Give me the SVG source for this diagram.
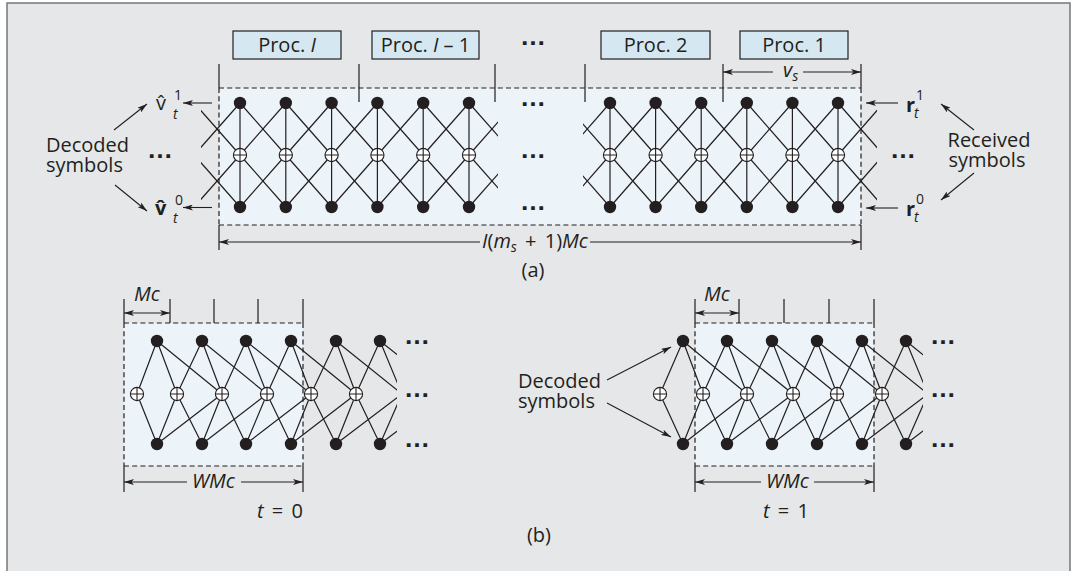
<svg xmlns="http://www.w3.org/2000/svg" width="1078" height="571" viewBox="0 0 1078 571">
<style>
text{font-family:"Open Sans","Liberation Sans",sans-serif;font-size:20px;fill:#231f20}
.it{font-style:italic}
.sm{font-size:14px}
.bd{font-weight:bold}
.ell{font-family:"Liberation Sans",sans-serif;font-size:26px;font-weight:bold;text-anchor:middle}
.ln{stroke:#231f20;stroke-width:1.2;fill:none}
.dim{stroke:#231f20;stroke-width:1.1;fill:none}
.dash{stroke:#231f20;stroke-width:1.2;stroke-dasharray:5 3.2}
.proc{fill:#d5e8f1;stroke:#231f20;stroke-width:1.2}
.mid{text-anchor:middle}
.ws{word-spacing:3px}
</style>
<defs>
<marker id="ah" viewBox="0 0 10 6" refX="10" refY="3" markerWidth="10" markerHeight="6" orient="auto-start-reverse" markerUnits="userSpaceOnUse"><path d="M0,0 L10,3 L0,6 L2.5,3 z" fill="#231f20"/></marker>
<circle id="dot" r="6.2" fill="#231f20"/>
<g id="xor"><circle r="6.6" fill="#fff" stroke="#231f20" stroke-width="1.1"/><path d="M-6.6,0H6.6M0,-6.6V6.6" stroke="#231f20" stroke-width="1.1"/></g>
<clipPath id="cL"><rect x="201" y="80" width="297" height="150"/></clipPath>
<clipPath id="cR"><rect x="583" y="80" width="294" height="150"/></clipPath>
<clipPath id="cb0"><rect x="100" y="320" width="297" height="150"/></clipPath>
<clipPath id="cb1"><rect x="640" y="320" width="283" height="150"/></clipPath>
</defs>
<rect x="7" y="3" width="1063" height="580" fill="#e6e7e8" stroke="#76777a" stroke-width="1.5"/>

<!-- (a) window box -->
<rect x="219" y="88" width="642" height="137" fill="#ecf3f9"/>
<path class="dash" d="M219,88H861M219,225H861M219,88V225M861,88V225"/>

<g id="proc-I"><rect class="proc" x="233" y="31" width="108" height="28"/><text x="287" y="52" class="mid">Proc. <tspan class="it">I</tspan></text></g>
<g id="proc-I-1"><rect class="proc" x="372" y="31" width="107" height="28"/><text x="425.5" y="52" class="mid">Proc. <tspan class="it">I</tspan> – 1</text></g>
<g id="proc-2"><rect class="proc" x="601" y="31" width="109" height="28"/><text x="655.5" y="52" class="mid">Proc. 2</text></g>
<g id="proc-1"><rect class="proc" x="740" y="31" width="108" height="28"/><text x="794" y="52" class="mid">Proc. 1</text></g>
<text class="ell" x="533" y="45">…</text>

<g id="connectors">
<path class="ln" d="M219,64V88M219,225V250M861,64V88M861,225V250M359,64V102M495,64V102M585,64V102M723,64V102"/>
<path class="dim" d="M723,72H773" marker-start="url(#ah)"/>
<path class="dim" d="M803,72H861" marker-end="url(#ah)"/>
<path class="dim" d="M219,242H480" marker-start="url(#ah)"/>
<path class="dim" d="M590,242H861" marker-end="url(#ah)"/>
<g clip-path="url(#cL)" class="ln">
<polyline points="194.2,103 240,155 285.8,103 331.6,155 377.4,103 423.2,155 469,103 514.8,155"/>
<polyline points="194.2,155 240,103 285.8,155 331.6,103 377.4,155 423.2,103 469,155 514.8,103"/>
<polyline points="194.2,207 240,155 285.8,207 331.6,155 377.4,207 423.2,155 469,207 514.8,155"/>
<polyline points="194.2,155 240,207 285.8,155 331.6,207 377.4,155 423.2,207 469,155 514.8,207"/>
</g>
<path class="ln" d="M240,103V207M285.8,103V207M331.6,103V207M377.4,103V207M423.2,103V207M469,103V207"/>
<g clip-path="url(#cR)" class="ln">
<polyline points="564.4,103 610,155 655.6,103 701.2,155 746.8,103 792.4,155 838,103 883.6,155"/>
<polyline points="564.4,155 610,103 655.6,155 701.2,103 746.8,155 792.4,103 838,155 883.6,103"/>
<polyline points="564.4,207 610,155 655.6,207 701.2,155 746.8,207 792.4,155 838,207 883.6,155"/>
<polyline points="564.4,155 610,207 655.6,155 701.2,207 746.8,155 792.4,207 838,155 883.6,207"/>
</g>
<path class="ln" d="M610,103V207M655.6,103V207M701.2,103V207M746.8,103V207M792.4,103V207M838,103V207"/>
<path class="dim" d="M212,103H183" marker-end="url(#ah)"/>
<path class="dim" d="M212,207.5H183" marker-end="url(#ah)"/>
<path class="dim" d="M114,130L147,104" marker-end="url(#ah)"/>
<path class="dim" d="M115,185L147,211" marker-end="url(#ah)"/>
<path class="dim" d="M898,103H866" marker-end="url(#ah)"/>
<path class="dim" d="M898,208H866" marker-end="url(#ah)"/>
<path class="dim" d="M974,130L941,104" marker-end="url(#ah)"/>
<path class="dim" d="M974,173L941,200" marker-end="url(#ah)"/>

<path class="ln" d="M124,299V323M170,299V323M214,299V323M258,299V323M303,299V323M124,466V492M303,466V492"/>
<path class="dim" d="M124,313H170" marker-start="url(#ah)" marker-end="url(#ah)"/>
<path class="dim" d="M124,482H187" marker-start="url(#ah)"/>
<path class="dim" d="M241,482H303" marker-end="url(#ah)"/>
<path class="ln" d="M695,299V323M739,299V323M784,299V323M829,299V323M874,299V323M695,466V492M874,466V492"/>
<path class="dim" d="M695,313H739" marker-start="url(#ah)" marker-end="url(#ah)"/>
<path class="dim" d="M695,482H761" marker-start="url(#ah)"/>
<path class="dim" d="M814,482H874" marker-end="url(#ah)"/>
<path class="dim" d="M607,380L671,347" marker-end="url(#ah)"/>
<path class="dim" d="M607,403L671,437" marker-end="url(#ah)"/>
</g>

<g id="box-t0"><rect x="124" y="323" width="179" height="143" fill="#ecf3f9"/><path class="dash" d="M124,323H303M124,466H303M124,323V466M303,323V466"/></g>
<g id="box-t1"><rect x="695" y="323" width="179" height="143" fill="#ecf3f9"/><path class="dash" d="M695,323H874M695,466H874M695,323V466M874,323V466"/></g>

<g id="connectors-b">
<g clip-path="url(#cb0)" class="ln">
<path d="M157,341L137,394M157,341L177,394M157,341L222,394M202,341L177,394M202,341L222,394M202,341L267,394M246,341L222,394M246,341L267,394M246,341L311,394M291,341L267,394M291,341L311,394M291,341L356,394M336,341L311,394M336,341L356,394M336,341L402,394M380,341L356,394M380,341L402,394M380,341L447,394"/>
<path d="M157,444L137,394M157,444L177,394M157,444L222,394M202,444L177,394M202,444L222,394M202,444L267,394M246,444L222,394M246,444L267,394M246,444L311,394M291,444L267,394M291,444L311,394M291,444L356,394M336,444L311,394M336,444L356,394M336,444L402,394M380,444L356,394M380,444L402,394M380,444L447,394"/>
</g>
<g clip-path="url(#cb1)" class="ln">
<path d="M683,341L660,394M683,341L703,394M683,341L747,394M727,341L703,394M727,341L747,394M727,341L793,394M772,341L747,394M772,341L793,394M772,341L837,394M817,341L793,394M817,341L837,394M817,341L882,394M862,341L837,394M862,341L882,394M862,341L928,394M906,341L882,394M906,341L928,394M906,341L972,394"/>
<path d="M683,444L660,394M683,444L703,394M683,444L747,394M727,444L703,394M727,444L747,394M727,444L793,394M772,444L747,394M772,444L793,394M772,444L837,394M817,444L793,394M817,444L837,394M817,444L882,394M862,444L837,394M862,444L882,394M862,444L928,394M906,444L882,394M906,444L928,394M906,444L972,394"/>
</g>
</g>

<g id="a-L-top"><use href="#dot" x="240" y="103"/><use href="#dot" x="285.8" y="103"/><use href="#dot" x="331.6" y="103"/><use href="#dot" x="377.4" y="103"/><use href="#dot" x="423.2" y="103"/><use href="#dot" x="469" y="103"/></g>
<g id="a-L-xor"><use href="#xor" x="240" y="155"/><use href="#xor" x="285.8" y="155"/><use href="#xor" x="331.6" y="155"/><use href="#xor" x="377.4" y="155"/><use href="#xor" x="423.2" y="155"/><use href="#xor" x="469" y="155"/></g>
<g id="a-L-bot"><use href="#dot" x="240" y="207"/><use href="#dot" x="285.8" y="207"/><use href="#dot" x="331.6" y="207"/><use href="#dot" x="377.4" y="207"/><use href="#dot" x="423.2" y="207"/><use href="#dot" x="469" y="207"/></g>
<g id="a-R-top"><use href="#dot" x="610" y="103"/><use href="#dot" x="655.6" y="103"/><use href="#dot" x="701.2" y="103"/><use href="#dot" x="746.8" y="103"/><use href="#dot" x="792.4" y="103"/><use href="#dot" x="838" y="103"/></g>
<g id="a-R-xor"><use href="#xor" x="610" y="155"/><use href="#xor" x="655.6" y="155"/><use href="#xor" x="701.2" y="155"/><use href="#xor" x="746.8" y="155"/><use href="#xor" x="792.4" y="155"/><use href="#xor" x="838" y="155"/></g>
<g id="a-R-bot"><use href="#dot" x="610" y="207"/><use href="#dot" x="655.6" y="207"/><use href="#dot" x="701.2" y="207"/><use href="#dot" x="746.8" y="207"/><use href="#dot" x="792.4" y="207"/><use href="#dot" x="838" y="207"/></g>
<text class="ell" x="533" y="106">…</text>
<text class="ell" x="533" y="158">…</text>
<text class="ell" x="533" y="210">…</text>
<text class="ell" x="160" y="158">…</text>
<text class="ell" x="903" y="158">…</text>

<g id="b0-top"><use href="#dot" x="157" y="341"/><use href="#dot" x="202" y="341"/><use href="#dot" x="246" y="341"/><use href="#dot" x="291" y="341"/><use href="#dot" x="336" y="341"/><use href="#dot" x="380" y="341"/></g>
<g id="b0-xor"><use href="#xor" x="137" y="394"/><use href="#xor" x="177" y="394"/><use href="#xor" x="222" y="394"/><use href="#xor" x="267" y="394"/><use href="#xor" x="311" y="394"/><use href="#xor" x="356" y="394"/></g>
<g id="b0-bot"><use href="#dot" x="157" y="444"/><use href="#dot" x="202" y="444"/><use href="#dot" x="246" y="444"/><use href="#dot" x="291" y="444"/><use href="#dot" x="336" y="444"/><use href="#dot" x="380" y="444"/></g>
<g id="b1-top"><use href="#dot" x="683" y="341"/><use href="#dot" x="727" y="341"/><use href="#dot" x="772" y="341"/><use href="#dot" x="817" y="341"/><use href="#dot" x="862" y="341"/><use href="#dot" x="906" y="341"/></g>
<g id="b1-xor"><use href="#xor" x="660" y="394"/><use href="#xor" x="703" y="394"/><use href="#xor" x="747" y="394"/><use href="#xor" x="793" y="394"/><use href="#xor" x="837" y="394"/><use href="#xor" x="882" y="394"/></g>
<g id="b1-bot"><use href="#dot" x="683" y="444"/><use href="#dot" x="727" y="444"/><use href="#dot" x="772" y="444"/><use href="#dot" x="817" y="444"/><use href="#dot" x="862" y="444"/><use href="#dot" x="906" y="444"/></g>
<text class="ell" x="417" y="344">…</text>
<text class="ell" x="417" y="397">…</text>
<text class="ell" x="417" y="447">…</text>
<text class="ell" x="943" y="344">…</text>
<text class="ell" x="943" y="397">…</text>
<text class="ell" x="943" y="447">…</text>

<g id="lbl-decoded-a"><text x="46" y="152">Decoded<tspan x="46" dy="20">symbols</tspan></text></g>
<g id="lbl-v1"><text x="156" y="110">v̂</text><text x="174" y="100" class="sm">1</text><text x="173" y="119" class="sm it">t</text></g>
<g id="lbl-v0"><text x="155" y="215" class="bd">v̂</text><text x="175" y="205" class="sm">0</text><text x="173" y="223" class="sm it">t</text></g>
<g id="lbl-r1"><text x="906" y="112" class="bd">r</text><text x="916" y="100" class="sm">1</text><text x="914" y="118" class="sm it">t</text></g>
<g id="lbl-r0"><text x="906" y="216" class="bd">r</text><text x="916" y="204" class="sm">0</text><text x="914" y="222" class="sm it">t</text></g>
<g id="lbl-received"><text x="989" y="147" class="mid">Received<tspan x="987" dy="20">symbols</tspan></text></g>
<text x="783" y="77" class="it">v<tspan class="sm" dy="4">s</tspan></text>
<text x="535" y="248" class="mid"><tspan class="it">I</tspan>(<tspan class="it">m</tspan><tspan class="sm it" dy="4">s</tspan><tspan dy="-4" class="ws"> + 1)</tspan><tspan class="it">Mc</tspan></text>
<text x="533" y="277" class="mid">(a)</text>

<text x="147" y="301" class="mid it">Mc</text>
<text x="213.5" y="488" class="mid it">WMc</text>
<text x="280" y="518" class="mid ws"><tspan class="it">t</tspan> = 0</text>
<text x="717" y="301" class="mid it">Mc</text>
<text x="787.5" y="488" class="mid it">WMc</text>
<text x="786" y="518" class="mid ws"><tspan class="it">t</tspan> = 1</text>
<g id="lbl-decoded-b"><text x="518" y="388">Decoded<tspan x="518" dy="20">symbols</tspan></text></g>
<text x="539" y="542" class="mid">(b)</text>
</svg>
